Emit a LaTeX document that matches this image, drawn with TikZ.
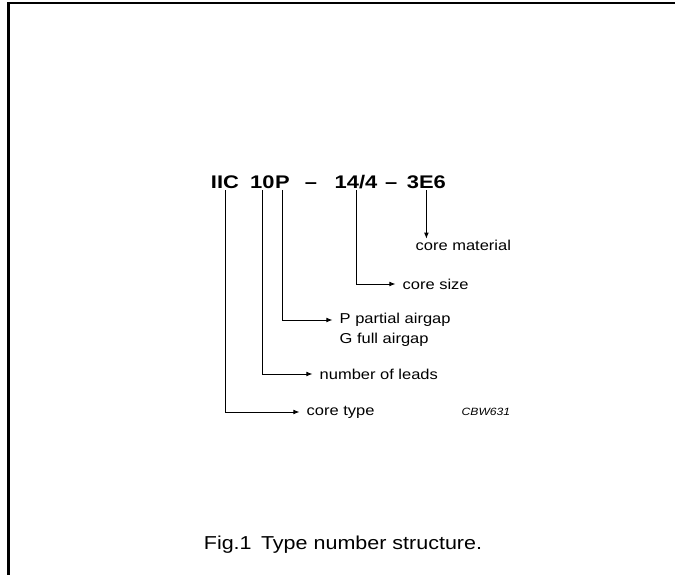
\documentclass[tikz,border=0pt]{standalone}
\usepackage{fontspec}
\setmainfont[FakeStretch=1.15]{Liberation Sans}
\newfontfamily\titlefont[FakeStretch=1.2]{Liberation Sans}
\usepackage{tikz}
\usetikzlibrary{arrows.meta, positioning}
\tikzset{
  partlabel/.style={
    font=\titlefont\fontsize{13}{15}\selectfont\bfseries,
    inner sep=1pt, anchor=base
  },
  fieldlabel/.style={
    font=\fontsize{10.2}{12}\selectfont, inner sep=1pt, anchor=west
  },
  fieldarrow/.style={
    -{Latex[length=1.5mm, width=1.2mm]}, line width=0.6pt,
    shorten >=4pt
  },
  framerule/.style={line width=1.7pt},
}
\begin{document}
\begin{tikzpicture}[
  capt/.style={font=\fontsize{13.3}{15}\selectfont, anchor=base},
  codelabel/.style={font=\fontsize{7.5}{9}\selectfont\itshape,
    inner sep=1pt, anchor=west},
]
  \useasboundingbox (0,0) rectangle (16.875,-14.375);

  % --- Frame ---
  \draw[framerule] (0.21,-14.6) -- (0.21,-0.075) -- (17.1,-0.075);

  % --- Type number ---
  \node[partlabel] (iic) at (5.625,-4.7075) {IIC};
  \node[partlabel] (ten) at (6.56,-4.7075) {10};
  \node[partlabel, right=-2pt of ten.base east, anchor=base west] (pp) {P};
  \node[partlabel] (dasha) at (7.775,-4.7075) {\textendash};
  \node[partlabel] (size) at (8.9,-4.7075) {14/4};
  \node[partlabel] (dashb) at (9.78,-4.7075) {\textendash};
  \node[partlabel] (mat) at (10.66,-4.7075) {3E6};

  % --- Field labels ---
  \node[fieldlabel, anchor=base west] (cmat) at (10.35,-6.2675) {core material};
  \node[fieldlabel] (csize) at (10.025,-7.1) {core size};
  \node[fieldlabel] (ppart) at (8.45,-8.0) {P partial airgap};
  \node[fieldlabel, below=2pt of ppart.south west, anchor=north west]
    (gfull) {G full airgap};
  \node[fieldlabel] (nlead) at (7.95,-9.35) {number of leads};
  \node[fieldlabel] (ctype) at (7.625,-10.3) {core type};
  \node[codelabel] (code) at (11.5,-10.3) {CBW631};

  % --- Arrows ---
  \draw[fieldarrow, shorten >=0pt] (mat.south) -- (mat.south |- cmat.north);
  \draw[fieldarrow] (size.south) |- (csize.west);
  \draw[fieldarrow] (pp.south) |- (ppart.west);
  \draw[fieldarrow] (ten.south) |- (nlead.west);
  \draw[fieldarrow] (iic.south) |- (ctype.west);

  % --- Caption ---
  \node[capt] (caption) at (8.575,-13.725) {Fig.1\enspace Type number structure.};
\end{tikzpicture}
\end{document}
